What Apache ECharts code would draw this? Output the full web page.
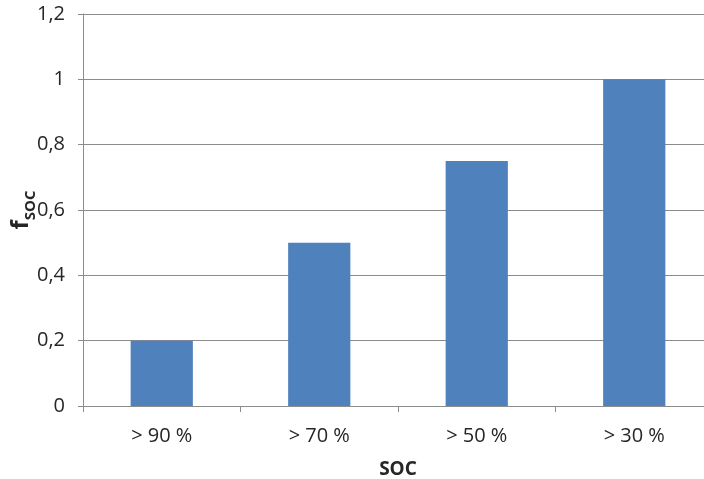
<!DOCTYPE html>
<html>
<head>
<meta charset="utf-8">
<script src="https://cdn.jsdelivr.net/npm/echarts@6/dist/echarts.min.js"></script>
<style>
  html, body { margin: 0; padding: 0; background: #fff; }
  #chart { width: 704px; height: 479px; }
</style>
</head>
<body>
<div id="chart"></div>
<script>
  // 数据
  const categories = ["> 90 %", "> 70 %", "> 50 %", "> 30 %"];
  const fsocValues = [0.2, 0.5, 0.75, 1.0];
  const yTicks = [0, 0.2, 0.4, 0.6, 0.8, 1.0, 1.2];

  const FONT = "'Open Sans', 'Liberation Sans', sans-serif";
  const TEXT = "#262626";
  const GRID = "#8c8c8c";

  // 逗号小数
  function fmtComma(v) {
    return String(Math.round(v * 10) / 10).replace(".", ",");
  }

  const chart = echarts.init(document.getElementById("chart"), null, { renderer: "canvas" });
  chart.setOption({
    animation: false,
    grid: { left: 83, top: 14, width: 630, height: 392, outerBoundsMode: "none", containLabel: false },
    xAxis: {
      type: "category",
      data: categories,
      name: "SOC",
      nameLocation: "middle",
      nameGap: 54,
      nameMoveOverlap: false,
      nameTextStyle: { fontFamily: FONT, fontSize: 19, fontWeight: "bold", color: TEXT },
      axisLine: { lineStyle: { color: GRID, width: 1 } },
      axisTick: { show: true, length: 6, lineStyle: { color: GRID } },
      axisLabel: { fontFamily: FONT, fontSize: 20, color: TEXT, margin: 20 },
    },
    yAxis: {
      type: "value",
      min: yTicks[0],
      max: yTicks[yTicks.length - 1],
      interval: 0.2,
      name: "{f|f}{s|SOC}",
      nameLocation: "middle",
      nameRotate: 90,
      nameGap: 50,
      nameMoveOverlap: false,
      nameTextStyle: {
        rich: {
          f: { fontFamily: FONT, fontSize: 24, fontWeight: "bold", color: TEXT, verticalAlign: "bottom", lineHeight: 26 },
          s: { fontFamily: FONT, fontSize: 15, fontWeight: "bold", color: TEXT, verticalAlign: "bottom", lineHeight: 26, padding: [0, 0, -5, 0] },
        },
      },
      axisLine: { show: true, lineStyle: { color: GRID, width: 1 } },
      axisTick: { show: true, length: 5, lineStyle: { color: GRID } },
      splitLine: { show: true, lineStyle: { color: GRID, width: 1 } },
      axisLabel: {
        fontFamily: FONT,
        fontSize: 20,
        color: TEXT,
        margin: 18,
        formatter: (v) => fmtComma(v),
      },
    },
    series: [
      {
        type: "bar",
        data: fsocValues,
        barWidth: "39.5%",
        itemStyle: { color: "#4f81bd" },
      },
    ],
  });
</script>
</body>
</html>
